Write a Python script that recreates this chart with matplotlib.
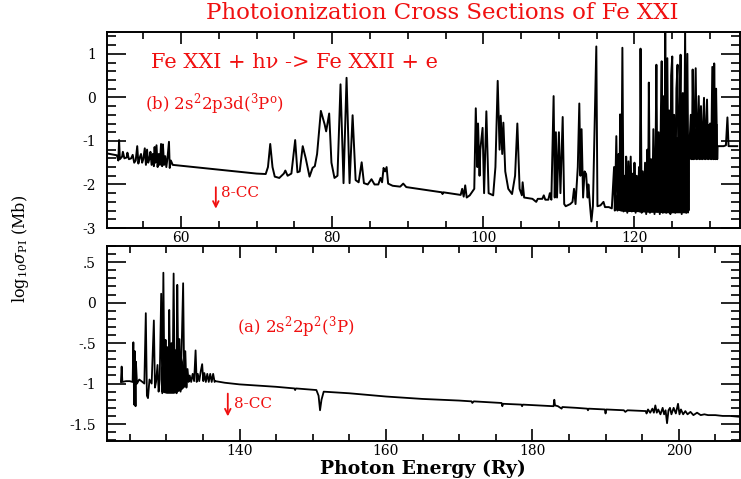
import matplotlib
matplotlib.use("Agg")
import matplotlib.pyplot as plt
import numpy as np
from matplotlib.ticker import MultipleLocator

plt.rcParams['font.family'] = ['DejaVu Serif']
plt.rcParams['mathtext.fontset'] = 'dejavuserif'

# ---- panel (b): 2s2 2p3d (3Po), log10 sigma vs photon energy (Ry) ----
# low-energy resonance group
b1_E = [50.0, 51.5, 51.7, 51.8, 51.9, 52.2, 52.3, 52.5, 52.8, 52.9, 53.1, 53.4, 53.6, 53.8,
        54.0, 54.2, 54.35, 54.5, 54.7, 54.85, 55.0, 55.2, 55.35, 55.5, 55.65, 55.8, 55.95,
        56.1, 56.25, 56.4, 56.5, 56.6, 56.75, 56.9, 57.05, 57.2, 57.35, 57.5, 57.6, 57.75,
        57.9, 58.05, 58.2, 58.4, 58.5, 58.65, 58.9]
b1_s = [-1.28, -1.33, -1.45, -0.98, -1.42, -1.36, -1.25, -1.4, -1.38, -1.27, -1.42, -1.4, -1.32, -1.5,
        -1.45, -1.12, -1.52, -1.4, -1.3, -1.5, -1.42, -1.17, -1.55, -1.2, -1.5, -1.42, -1.25,
        -1.55, -1.3, -1.58, -1.14, -1.5, -1.1, -1.6, -1.3, -1.55, -1.07, -1.58, -1.08, -1.55,
        -1.35, -1.6, -1.4, -1.02, -1.62, -1.45, -1.55]
# broad resonances 70-90 Ry and the 98-117 Ry groups
b2_E = [60.0, 65.0, 70.0, 71.2, 71.5, 71.8, 72.1, 72.4, 73.0, 73.6, 73.8, 74.1, 74.6, 75.1, 75.4,
        75.7, 76.1, 76.5, 77.0, 77.4, 77.7, 78.0, 78.5, 79.0, 79.2, 79.6, 79.9, 80.3, 80.7, 81.1,
        81.5, 81.9, 82.3, 82.7, 83.1, 83.5, 83.9, 84.2, 84.7, 85.2, 85.6, 86.1, 86.4, 86.6, 86.8,
        87.0, 87.2, 87.4, 88.0, 89.0, 89.4, 89.8, 91.0, 94.5, 94.6, 94.7, 97.0, 97.2, 97.4, 97.6,
        97.8, 98.2, 98.8, 99.0, 99.2, 99.3, 99.5, 99.6, 99.9, 100.1, 100.4, 100.7, 101.3, 101.6,
        101.9, 102.15, 102.3, 102.5, 102.65, 102.9, 103.3, 103.8, 104.2, 104.5, 104.8, 105.1,
        105.2, 105.4, 106.5, 107.0, 107.2, 107.8, 108.0, 108.2, 108.6, 108.8, 109.0, 109.3,
        109.45, 109.6, 109.75, 110.0, 110.2, 110.5, 110.7, 110.9, 111.5, 111.8, 112.0, 112.2,
        112.5, 112.7, 112.85, 113.0, 113.2, 113.4, 113.6, 113.8, 113.9, 114.1, 114.3, 114.5,
        114.95, 115.1, 115.5, 115.9, 116.1, 116.6]
b2_s = [-1.57, -1.66, -1.75, -1.76, -1.6, -1.07, -1.6, -1.82, -1.85, -1.75, -1.68, -1.8, -1.75, -0.98, -1.72,
        -1.7, -1.12, -1.4, -1.82, -1.62, -1.58, -1.3, -0.31, -0.62, -0.78, -0.37, -1.5, -1.85, -1.8, 0.3,
        -1.97, 0.45, -1.97, -0.41, -1.9, -1.95, -1.49, -1.97, -2.0, -1.88, -2.0, -2.0, -1.85, -1.95, -1.62,
        -1.7, -1.6, -1.98, -2.03, -2.05, -1.98, -2.06, -2.09, -2.18, -2.22, -2.18, -2.24, -2.1, -2.28, -2.02,
        -2.3, -2.25, -2.1, -0.25, -1.6, -0.6, -1.8, -1.2, -0.7, -2.2, -0.32, -2.2, -2.25, -1.6,
        0.38, -1.2, -0.42, -1.3, -0.58, -1.7, -2.1, -2.22, -1.8, -0.6, -2.1, -2.25,
        -1.95, -2.3, -2.33, -2.4, -2.33, -2.33, -2.25, -2.35, -2.35, -2.2, -2.35, 0.03,
        -2.3, -0.8, -2.3, -0.8, -2.2, -0.45, -2.45, -2.5, -2.45, -2.4, -2.1, -2.45,
        -1.6, -0.14, -1.8, -0.73, -2.3, -1.7, -1.76, -2.3, -2.0, -2.45, -2.85, -2.5,
        1.17, -2.5, -2.48, -2.4, -2.52, -2.52]
# dense resonance region below the 8-CC thresholds
b3_E = [117.0, 117.3, 117.4, 117.6, 117.75, 117.9, 118.0, 118.1, 118.25, 118.4, 118.55, 118.7, 118.8,
        118.9, 119.05, 119.2, 119.35, 119.5, 119.65, 119.8, 119.9, 120.0, 120.15, 120.3, 120.45, 120.6,
        120.7, 120.8, 120.95, 121.1, 121.25, 121.4, 121.55, 121.7, 121.8, 121.9, 122.05, 122.2, 122.35,
        122.5, 122.65, 122.8, 122.9, 123.05, 123.2, 123.35, 123.5, 123.6, 123.75, 123.9, 124.0, 124.07,
        124.2, 124.35, 124.5, 124.6, 124.75, 124.85, 125.0, 125.1, 125.25, 125.4, 125.55, 125.7, 125.85,
        126.0, 126.1, 126.25, 126.4, 126.55, 126.7, 126.85, 127.0, 127.15, 127.2, 127.45, 127.6, 127.7,
        127.85, 128.1, 128.25, 128.5, 128.65, 128.8, 128.95, 129.2, 129.35, 129.6, 129.75, 130.0, 130.15,
        130.3, 130.45, 130.55, 130.7, 130.8, 130.95, 131.0, 131.8, 132.1, 132.3, 132.45, 133.6]
b3_s = [-2.55, -1.6, -2.6, -0.89, -2.6, -1.3, -2.55, -0.39, -2.6, 1.14, -2.62, -1.8, -2.6,
        -1.36, -2.65, -1.47, -2.6, -1.36, -2.62, -1.75, -2.6, -1.5, -2.65, -1.8, -2.6, -1.6,
        -2.62, 1.12, -2.65, -1.7, -2.6, -1.5, -2.68, -1.2, -2.6, 0.34, -2.65, -1.42, -2.6,
        -0.73, -2.68, -1.1, 0.75, -2.62, -0.8, -2.68, -0.3, 0.83, -2.65, 0.03, -2.6, 1.6,
        -2.65, 0.9, -2.62, -0.3, -2.68, 0.5, 0.94, -2.6, -0.4, -2.65, 0.2, 0.75, -2.62,
        -0.2, 0.98, -2.68, 0.1, -2.6, 1.6, -2.65, 1.0, -2.6, -1.42, -0.4, -1.42, 0.64,
        -1.42, 0.67, -1.42, 0.03, -1.42, -0.2, -1.42, -0.01, -1.42, -0.05, -1.42, -0.6, -1.42,
        0.7, -1.42, 0.78, -1.42, 0.2, -1.42, -1.12, -1.12, -1.1, -0.46, -1.12, -1.12]
# solid black band of unresolved resonances
core_E = [117.3, 118.0, 119.0, 120.0, 121.0, 122.0, 123.0, 124.0, 125.0, 126.0, 127.15,
          127.16, 128.0, 129.0, 130.0, 130.95]
core_lo = [-2.58, -2.6, -2.62, -2.62, -2.63, -2.64, -2.64, -2.65, -2.65, -2.65, -2.65,
           -1.42, -1.42, -1.42, -1.42, -1.42]
core_hi = [-2.3, -2.1, -1.9, -1.85, -1.8, -1.5, -1.2, -1.0, -0.9, -0.9, -0.9,
           -0.9, -0.7, -0.6, -0.6, -0.6]

# ---- panel (a): 2s2 2p2 (3P) ----
a1_E = [123.8, 123.9, 124.0, 124.5, 125.0, 125.4, 125.5, 125.6, 125.7, 125.8, 125.85, 126.0, 126.3,
        126.6, 127.0, 127.2, 127.35, 127.5, 127.7, 128.0, 128.3, 128.45, 128.6, 128.8, 128.95, 129.1,
        129.3, 129.45, 129.6, 129.75, 129.9, 130.0, 130.15, 130.3, 130.4, 130.55, 130.7, 130.85, 131.0,
        131.15, 131.3, 131.4, 131.5, 131.65, 131.8, 131.95, 132.1, 132.3, 132.45, 132.6, 132.75, 132.9,
        133.05, 133.2, 133.4, 133.6, 133.8, 134.0, 134.15, 134.3, 134.5, 134.7, 134.9, 135.05, 135.2,
        135.4, 135.6, 135.8, 136.0, 136.2, 136.4, 136.6, 136.7]
a1_s = [-0.98, -0.79, -0.98, -0.97, -0.97, -0.98, -0.49, -1.26, -0.6, -1.28, -0.73, -1.0, -0.95,
        -0.97, -1.0, -0.13, -1.15, -1.18, -0.95, -1.0, -0.22, -1.05, -0.98, -0.77, -1.1, -0.95,
        0.11, -1.12, 0.37, -1.1, -0.46, -1.05, -0.55, -1.1, -0.09, -1.05, -0.5, -1.1, 0.36,
        -1.05, -0.63, -1.12, 0.22, -0.9, -0.45, -1.1, -0.55, 0.24, -1.0, -0.6, -1.05, -0.82,
        -0.98, -0.9, -0.98, -0.88, -0.97, -0.59, -0.98, -0.88, -0.97, -0.85, -0.76, -0.97, -0.87,
        -0.98, -0.88, -0.98, -0.88, -0.98, -0.88, -0.98, -0.97]
a2_E = [138.0, 140.0, 145.0, 147.5, 147.6, 147.7, 150.5, 150.8, 151.0, 151.2, 151.5, 155.0, 160.0,
        165.0, 170.0, 171.7, 171.8, 172.0, 175.8, 175.9, 176.0, 178.5, 178.6, 178.7, 182.9, 183.0,
        183.1, 183.5, 184.0, 184.1, 186.0, 187.5, 187.6, 187.7, 189.9, 190.0, 190.1, 192.5, 192.7,
        193.0, 195.5, 195.6, 195.8, 196.1, 196.4, 196.6, 196.8, 197.0, 197.2, 197.5, 197.8, 198.0,
        198.2, 198.4, 198.6, 198.8, 199.0, 199.3, 199.6, 199.9, 200.1, 200.3, 200.6, 200.9, 201.2,
        201.6, 202.0, 202.5, 203.0, 203.5, 204.0, 205.0, 206.0, 207.0, 208.2]
a2_s = [-0.99, -1.01, -1.04, -1.06, -1.08, -1.06, -1.08, -1.15, -1.33, -1.2, -1.1, -1.12, -1.16,
        -1.19, -1.21, -1.22, -1.24, -1.22, -1.24, -1.28, -1.25, -1.26, -1.28, -1.26, -1.28, -1.2,
        -1.27, -1.28, -1.31, -1.29, -1.3, -1.31, -1.33, -1.31, -1.32, -1.37, -1.32, -1.33, -1.35,
        -1.33, -1.34, -1.37, -1.32, -1.36, -1.31, -1.36, -1.27, -1.36, -1.32, -1.38, -1.3, -1.38,
        -1.33, -1.49, -1.33, -1.3, -1.38, -1.3, -1.37, -1.25, -1.38, -1.32, -1.38, -1.34, -1.38,
        -1.35, -1.39, -1.36, -1.39, -1.38, -1.39, -1.39, -1.4, -1.4, -1.41]
acore_E = [129.2, 130.0, 131.0, 132.0, 132.7]
acore_lo = [-1.1, -1.12, -1.12, -1.08, -1.02]
acore_hi = [-0.8, -0.65, -0.55, -0.65, -0.9]

top_E = np.concatenate([b1_E, b2_E, b3_E])
top_s = np.concatenate([b1_s, b2_s, b3_s])
bot_E = np.concatenate([a1_E, a2_E])
bot_s = np.concatenate([a1_s, a2_s])

red = '#f01010'
fig = plt.figure(figsize=(7.41, 4.79), dpi=100)
ax_b = fig.add_axes([0.1444, 0.524, 0.8536, 0.409])
ax_a = fig.add_axes([0.1444, 0.0793, 0.8536, 0.4071])

ax_b.fill_between(core_E, core_lo, core_hi, color='black', lw=0)
ax_b.plot(top_E, top_s, color='black', lw=1.4)
ax_a.fill_between(acore_E, acore_lo, acore_hi, color='black', lw=0)
ax_a.plot(bot_E, bot_s, color='black', lw=1.3)

ax_b.set_xlim(50.2, 133.9)
ax_b.set_ylim(-3, 1.5)
ax_a.set_xlim(121.9, 208.3)
ax_a.set_ylim(-1.71, 0.7)

ax_b.set_xticks([60, 80, 100, 120])
ax_b.set_yticks([-3, -2, -1, 0, 1])
ax_b.set_yticklabels(['-3', '-2', '-1', '0', '1'])
ax_b.yaxis.set_minor_locator(MultipleLocator(0.2))
ax_a.set_xticks([140, 160, 180, 200])
ax_a.set_yticks([-1.5, -1, -0.5, 0, 0.5])
ax_a.set_yticklabels(['-1.5', '-1', '-.5', '0', '.5'])
ax_a.yaxis.set_minor_locator(MultipleLocator(0.1))

for ax in (ax_b, ax_a):
    ax.xaxis.set_minor_locator(MultipleLocator(5))
    ax.tick_params(which='both', direction='in', top=True, right=True, labelsize=10, width=1.2)
    ax.tick_params(axis='x', which='major', length=8.5, pad=2.5)
    ax.tick_params(axis='x', which='minor', length=5)
    ax.tick_params(axis='y', which='major', length=14, pad=8)
    ax.tick_params(axis='y', which='minor', length=6.5)
    for sp in ax.spines.values():
        sp.set_linewidth(1.4)

fig.text(0.597, 0.972, 'Photoionization Cross Sections of Fe XXI', color=red,
         fontsize=16.5, ha='center', va='center')
ax_a.set_xlabel('Photon Energy (Ry)', fontsize=13.5, fontweight='bold', labelpad=1)
fig.text(0.027, 0.48, r'$\mathrm{log}_{10}\sigma_{\mathrm{PI}}$ (Mb)', rotation=90,
         fontsize=11.5, ha='center', va='center')

ax_b.text(0.07, 0.845, 'Fe XXI + hν -> Fe XXII + e', transform=ax_b.transAxes,
          color=red, fontsize=15, va='center')
ax_b.text(0.06, 0.635, r'(b) 2s$^2$2p3d($^3$P$^\mathrm{o}$)', transform=ax_b.transAxes,
          color=red, fontsize=12, va='center')
ax_b.annotate('', xy=(64.6, -2.62), xytext=(64.6, -2.0),
              arrowprops=dict(arrowstyle='->', color=red, lw=1.3))
ax_b.text(65.3, -2.2, '8-CC', color=red, fontsize=11, va='center')

ax_a.text(0.206, 0.585, r'(a) 2s$^2$2p$^2$($^3$P)', transform=ax_a.transAxes,
          color=red, fontsize=12, va='center')
ax_a.annotate('', xy=(138.4, -1.44), xytext=(138.4, -1.09),
              arrowprops=dict(arrowstyle='->', color=red, lw=1.3))
ax_a.text(139.2, -1.25, '8-CC', color=red, fontsize=11, va='center')

fig.savefig('out.png', dpi=100)
